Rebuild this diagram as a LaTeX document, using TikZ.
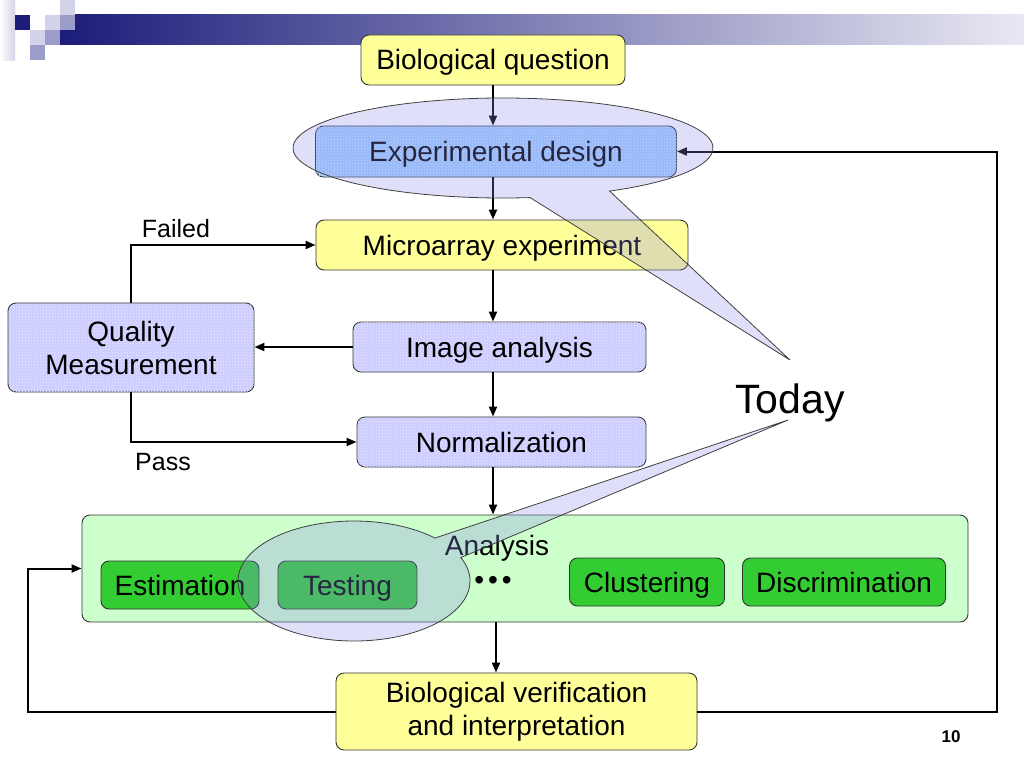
\documentclass[tikz,border=0pt]{standalone}
\usepackage{fontspec}
\setmainfont{Liberation Sans}
\usetikzlibrary{arrows.meta}
\usetikzlibrary{patterns}

\definecolor{boxyellow}{HTML}{FFFF99}
\definecolor{boxblue}{HTML}{99CCFF}
\definecolor{boxlav}{HTML}{CCCCFF}
\definecolor{boxpale}{HTML}{CCFFCC}
\definecolor{boxgreen}{HTML}{33CC33}
\definecolor{barnavy}{HTML}{1C1C7A}
\definecolor{barmid}{HTML}{9C9CC8}
\definecolor{barlight}{HTML}{D2D2E8}
\definecolor{wedge}{HTML}{8C8CEB}

\begin{document}
\begin{tikzpicture}[
    x=1pt, y=-1pt,
    every node/.style={font=\fontsize{28}{33}\selectfont},
    stage/.style={draw=black!80, line width=0.9pt, rounded corners=8pt, align=center, inner sep=0pt},
    oneline/.style={text height=22pt, text depth=2pt},
    dotty/.style={postaction={pattern=crosshatch dots, pattern color=white!60!boxlav}},
    lbl/.style={font=\fontsize{25}{30}\selectfont, anchor=base},
    arr/.style={line width=2pt, -{Triangle[length=10pt,width=8pt]}},
    callout/.style={draw=black!75, line width=0.8pt, fill=wedge, fill opacity=0.28, draw opacity=1},
  ]
  \useasboundingbox (0,0) rectangle (1024,768);

  % header bar and squares
  \shade[left color=barnavy, middle color=barmid, right color=barlight!50!white] (60,15) rectangle (1024,45);
  \shade[left color=white, right color=barlight] (0,0) rectangle (15,60);
  \foreach \sx/\sy/\sc in {15/15/barnavy, 45/15/barlight, 60/15/barmid, 60/0/barlight,
                           30/30/barlight, 45/30/barmid, 30/45/barmid}
    \fill[\sc] (\sx,\sy) rectangle ++(15,15);

  % stages
  \node[stage, oneline, fill=boxyellow, minimum width=264, minimum height=50] (bq) at (493,60) {Biological question};
  \node[stage, oneline, fill=boxblue, dotty, minimum width=361, minimum height=51] (ed) at (496,151.5) {Experimental design};
  \node[stage, oneline, fill=boxyellow, minimum width=372, minimum height=50] (me) at (502,245) {Microarray experiment};
  \node[stage, oneline, fill=boxlav, dotty, minimum width=293, minimum height=50] (ia) at (499.5,347) {Image analysis};
  \node[stage, oneline, fill=boxlav, dotty, minimum width=289, minimum height=50] (norm) at (501.5,442) {Normalization};
  \node[stage, fill=boxlav, dotty, minimum width=246, minimum height=89] (qm) at (131,347.5) {Quality\\Measurement};
  \node[stage, fill=boxpale, minimum width=886, minimum height=107] (an) at (525,568.5) {};
  \node[lbl, font=\fontsize{28}{33}\selectfont] (antitle) at (497,555) {Analysis};
  \node[stage, oneline, fill=boxgreen, minimum width=158, minimum height=48] (est) at (180,585) {Estimation};
  \node[stage, oneline, fill=boxgreen, minimum width=139, minimum height=48] (test) at (347.5,585) {Testing};
  \node (dots) at (493,583) {•\kern4pt•\kern4pt•};
  \node[stage, oneline, fill=boxgreen, minimum width=155, minimum height=48] (clus) at (647,582) {Clustering};
  \node[stage, oneline, fill=boxgreen, minimum width=203, minimum height=48] (disc) at (844,582) {Discrimination};
  \node[stage, fill=boxyellow, minimum width=361, minimum height=77] (bv) at (516.5,711.5) {Biological verification\\and interpretation};

  % connectors
  \coordinate (spine) at (493,0);
  \coordinate (spinelow) at (496,0);
  \coordinate (rloop) at (997,0);
  \coordinate (lloop) at (28,0);
  \draw[arr] (bq.south -| spine) -- (ed.north -| spine);
  \draw[arr] (ed.south -| spine) -- (me.north -| spine);
  \draw[arr] (me.south -| spine) -- (ia.north -| spine);
  \draw[arr] (ia.south -| spine) -- (norm.north -| spine);
  \draw[arr] (norm.south -| spine) -- (an.north -| spine);
  \draw[arr] (an.south -| spinelow) -- (bv.north -| spinelow);
  \draw[arr] (ia.west) -- (ia.west -| qm.east);
  \draw[arr] (qm.north) |- (me.west);
  \draw[arr] (qm.south) |- (norm.west);
  \draw[arr] (bv.east) -- (bv.east -| rloop) -- (ed.east -| rloop) -- (ed.east);
  \draw[arr] (bv.west) -- (bv.west -| lloop) -- (an.west -| lloop) -- (an.west);
  \node[lbl] (failed) at (176,237) {Failed};
  \node[lbl] (pass) at (163,470) {Pass};

  % callouts
  \coordinate (bubA) at (503,148);
  \coordinate (tipA) at (790,360);
  \path[callout] (bubA) ++(59.5:210 and 50)
    arc[start angle=59.5, end angle=-277.4, x radius=210, y radius=50] -- (tipA) -- cycle;
  \coordinate (bubB) at (354,581);
  \coordinate (tipB) at (788,420);
  \path[callout] (bubB) ++(-23:116 and 60)
    arc[start angle=-23, end angle=314.3, x radius=116, y radius=60] -- (tipB) -- cycle;

  \node[anchor=base, font=\fontsize{41}{48}\selectfont] (today) at (790,413) {Today};
  \node[anchor=base, font=\fontsize{17}{20}\selectfont\bfseries] (pageno) at (951,742) {10};
\end{tikzpicture}
\end{document}
